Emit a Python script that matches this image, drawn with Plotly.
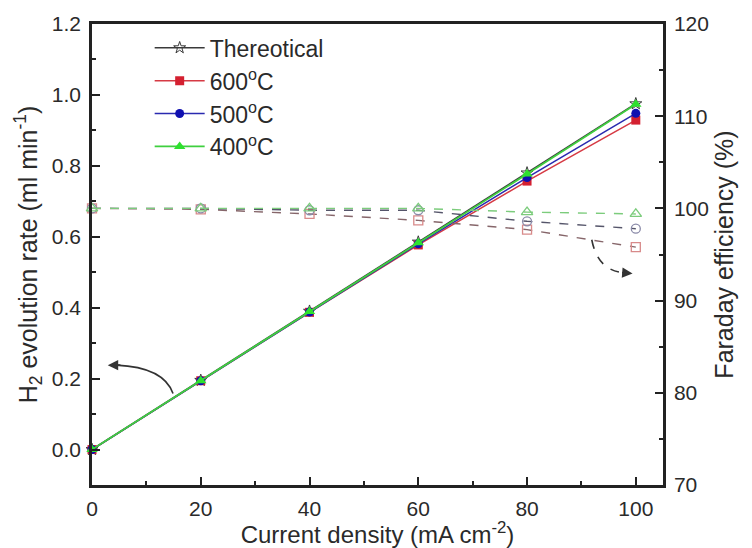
import plotly.graph_objects as go

# Current density (mA cm-2)
current_density = [0, 20, 40, 60, 80, 100]

# H2 evolution rate (ml min-1)
rate_theoretical = [0, 0.195, 0.390, 0.585, 0.780, 0.975]
rate_600 = [0, 0.194, 0.387, 0.577, 0.757, 0.929]
rate_500 = [0, 0.194, 0.388, 0.580, 0.767, 0.948]
rate_400 = [0, 0.194, 0.389, 0.583, 0.777, 0.974]

# Faraday efficiency (%)
fe_600 = [100, 99.9, 99.4, 98.7, 97.7, 95.8]
fe_500 = [100, 100, 99.8, 99.8, 98.6, 97.8]
fe_400 = [100, 100, 100, 100, 99.6, 99.4]

FONT = "Liberation Sans, Arial, sans-serif"
TEXT = "#2a2a2a"

fig = go.Figure()

# Faraday efficiency on the right axis: dashed lines, open markers
fig.add_trace(go.Scatter(
    x=current_density, y=fe_600, yaxis="y2", mode="lines+markers",
    line=dict(color="#86666a", width=1.4, dash="dash"),
    marker=dict(symbol="square-open", size=9, color="#d88a8a", line=dict(width=1.3)),
    showlegend=False, cliponaxis=False))
fig.add_trace(go.Scatter(
    x=current_density, y=fe_500, yaxis="y2", mode="lines+markers",
    line=dict(color="#55556a", width=1.4, dash="dash"),
    marker=dict(symbol="circle-open", size=9, color="#8a8aa8", line=dict(width=1.3)),
    showlegend=False, cliponaxis=False))
fig.add_trace(go.Scatter(
    x=current_density, y=fe_400, yaxis="y2", mode="lines+markers",
    line=dict(color="#7ccc7c", width=1.4, dash="dash"),
    marker=dict(symbol="triangle-up-open", size=10, color="#7ccc7c", line=dict(width=1.3)),
    showlegend=False, cliponaxis=False))

# H2 evolution rate on the left axis
fig.add_trace(go.Scatter(
    x=current_density, y=rate_theoretical, mode="lines+markers", name="Thereotical",
    line=dict(color="#3a3a3a", width=1.6),
    marker=dict(symbol="star-open", size=9, color="#3a3a3a", line=dict(width=1)),
    cliponaxis=False))
fig.add_trace(go.Scatter(
    x=current_density, y=rate_600, mode="lines+markers", name="600<sup>o</sup>C",
    line=dict(color="#d63a44", width=1.5),
    marker=dict(symbol="square", size=9, color="#d42030"),
    cliponaxis=False))
fig.add_trace(go.Scatter(
    x=current_density, y=rate_500, mode="lines+markers", name="500<sup>o</sup>C",
    line=dict(color="#2a2ab0", width=1.5),
    marker=dict(symbol="circle", size=9, color="#1010b0"),
    cliponaxis=False))
fig.add_trace(go.Scatter(
    x=current_density, y=rate_400, mode="lines+markers", name="400<sup>o</sup>C",
    line=dict(color="#3fcf3f", width=1.8),
    marker=dict(symbol="triangle-up", size=10, color="#2ee02e"),
    cliponaxis=False))

# Curved pointer arrows towards each axis
fig.add_shape(type="path", xref="x", yref="y",
              path="M 14.9,0.158 Q 13.2,0.232 4.5,0.238",
              line=dict(color="#333333", width=1.6))
fig.add_annotation(x=2.9, y=0.238, ax=5.5, ay=0.238, xref="x", yref="y",
                   axref="x", ayref="y", text="", showarrow=True,
                   arrowhead=2, arrowsize=1.3, arrowwidth=1.6, arrowcolor="#333333")
fig.add_shape(type="path", xref="x", yref="y2",
              path="M 91.9,96.6 Q 93.0,93.3 97.6,93.05",
              line=dict(color="#333333", width=1.6, dash="dash"))
fig.add_annotation(x=99.4, y=92.95, ax=97.2, ay=93.05, xref="x", yref="y2",
                   axref="x", ayref="y2", text="", showarrow=True,
                   arrowhead=2, arrowsize=1.3, arrowwidth=1.6, arrowcolor="#333333")

axis_common = dict(
    ticks="inside", ticklen=8, tickwidth=2, tickcolor="#222222",
    showline=True, linecolor="#222222", linewidth=2.5,
    showgrid=False, zeroline=False, automargin=False,
    tickfont=dict(family=FONT, size=21, color=TEXT),
)

fig.update_layout(
    width=752, height=548,
    margin=dict(l=92, r=89, t=24, b=63),
    paper_bgcolor="white", plot_bgcolor="white",
    font=dict(family=FONT, color=TEXT),
    xaxis=dict(
        **axis_common, range=[0, 105], tick0=0, dtick=20, mirror=True,
        minor=dict(ticks="inside", ticklen=4, tickwidth=2, tickcolor="#222222", dtick=10),
        title=dict(text="Current density (mA cm<sup>-2</sup>)",
                   font=dict(family=FONT, size=24, color=TEXT), standoff=6),
        ticklabelstandoff=3,
    ),
    yaxis=dict(
        **axis_common, range=[-0.1, 1.2], tick0=0, dtick=0.2, tickformat=".1f",
        minor=dict(ticks="inside", ticklen=4, tickwidth=2, tickcolor="#222222", dtick=0.1, tick0=0),
        title=dict(text="H<sub>2</sub> evolution rate (ml min<sup>-1</sup>)",
                   font=dict(family=FONT, size=25, color=TEXT), standoff=8),
        ticklabelstandoff=4,
    ),
    yaxis2=dict(
        **axis_common, range=[70, 120], tick0=70, dtick=10, overlaying="y", side="right",
        minor=dict(ticks="inside", ticklen=4, tickwidth=2, tickcolor="#222222", dtick=5, tick0=70),
        title=dict(text="Faraday efficiency (%)",
                   font=dict(family=FONT, size=25, color=TEXT), standoff=8),
        ticklabelstandoff=4,
    ),
    legend=dict(
        x=0.101, y=0.995, xanchor="left", yanchor="top",
        bgcolor="rgba(0,0,0,0)", borderwidth=0,
        font=dict(family=FONT, size=23, color=TEXT),
        itemwidth=50,
    ),
)

fig.write_html("out.html")
